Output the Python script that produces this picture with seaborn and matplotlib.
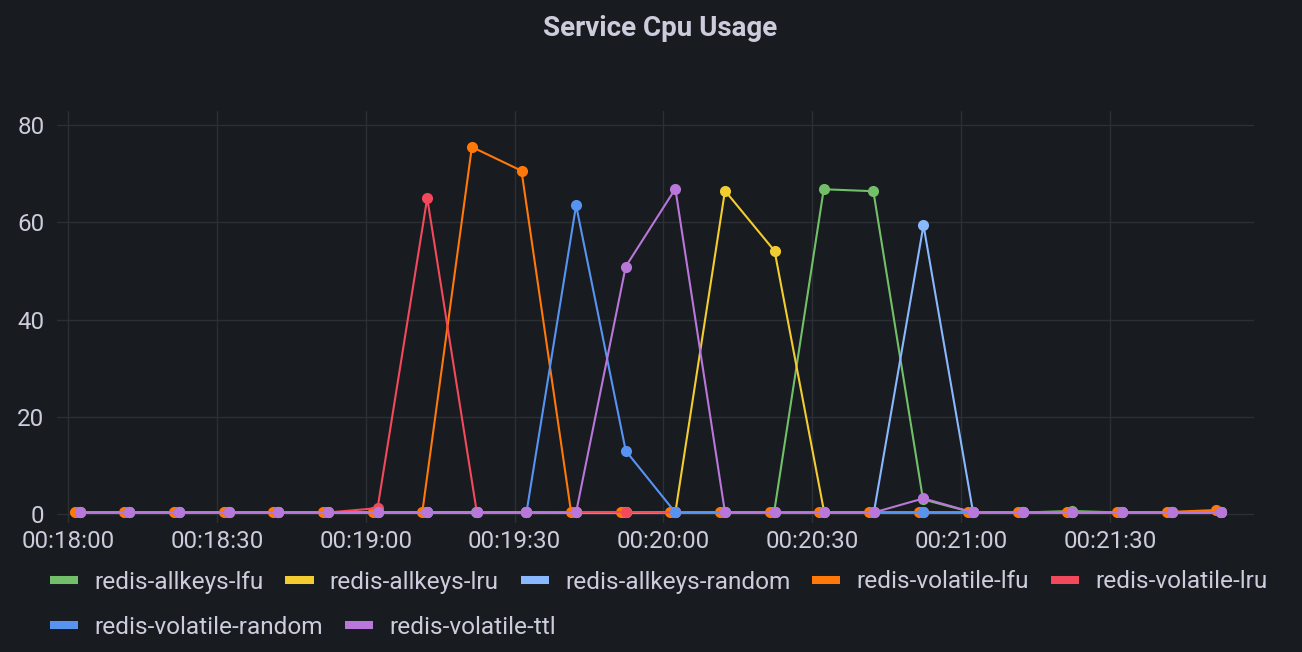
import numpy as np
import pandas as pd
import matplotlib
matplotlib.use("Agg")
import matplotlib.pyplot as plt
import matplotlib.dates as mdates
from matplotlib.lines import Line2D
import seaborn as sns

# ---------------- data ----------------
series_names = [
    "redis-allkeys-lfu", "redis-allkeys-lru", "redis-allkeys-random",
    "redis-volatile-lfu", "redis-volatile-lru", "redis-volatile-random",
    "redis-volatile-ttl",
]
series_colors = ["#73BF69", "#F2CC30", "#8AB8FF", "#FF780A", "#F2495C", "#5794F2", "#B877D9"]
# sample offsets (seconds after 00:18:00) of first point, 10 s step
first_offset = [2.3, 2.4, 2.4, 1.4, 2.4, 2.4, 2.4]
step_seconds = 10
allkeys_lfu = [0.3, 0.3, 0.3, 0.3, 0.3, 0.3, 0.3, 0.3, 0.3, 0.3, 0.3, 0.3,
               0.3, 0.3, 0.3, 66.8, 66.4, 3.0, 0.3, 0.3, 0.6, 0.3, 0.3, 0.3]
allkeys_lru = [0.3, 0.3, 0.3, 0.3, 0.3, 0.3, 0.3, 0.3, 0.3, 0.3, 0.3, 0.3,
               0.3, 66.5, 54.1, 0.3, 0.3, 0.3, 0.3, 0.3, 0.3, 0.3, 0.3, 0.3]
allkeys_random = [0.3, 0.3, 0.3, 0.3, 0.3, 0.3, 0.3, 0.3, 0.3, 0.3, 0.3, 0.3,
                  0.3, 0.3, 0.3, 0.3, 0.3, 59.4, 0.3, 0.3, 0.3, 0.3, 0.3, 0.3]
volatile_lfu = [0.3, 0.3, 0.3, 0.3, 0.3, 0.3, 0.3, 0.3, 75.5, 70.6, 0.3, 0.3,
                0.3, 0.3, 0.3, 0.3, 0.3, 0.3, 0.3, 0.3, 0.3, 0.3, 0.4, 0.8]
volatile_lru = [0.3, 0.3, 0.3, 0.3, 0.3, 0.3, 1.2, 65.0, 0.3, 0.3, 0.4, 0.4,
                0.3, 0.3, 0.3, 0.3, 0.3, 0.3, 0.3, 0.3, 0.3, 0.3, 0.3, 0.3]
volatile_random = [0.3, 0.3, 0.3, 0.3, 0.3, 0.3, 0.3, 0.3, 0.3, 0.3, 63.5, 13.0,
                   0.3, 0.3, 0.3, 0.3, 0.3, 0.3, 0.3, 0.3, 0.3, 0.3, 0.3, 0.3]
volatile_ttl = [0.3, 0.3, 0.3, 0.3, 0.3, 0.3, 0.3, 0.3, 0.3, 0.3, 0.3, 50.9,
                66.9, 0.3, 0.3, 0.3, 0.3, 3.2, 0.3, 0.3, 0.3, 0.3, 0.3, 0.3]
series_values = [allkeys_lfu, allkeys_lru, allkeys_random, volatile_lfu,
                 volatile_lru, volatile_random, volatile_ttl]
y_ticks = [0, 20, 40, 60, 80]
title = "Service Cpu Usage"

# ---------------- build long table ----------------
base = pd.Timestamp("2024-01-01 00:18:00")
rows = []
for name, off, vals in zip(series_names, first_offset, series_values):
    for k, v in enumerate(vals):
        rows.append({"time": base + pd.Timedelta(seconds=off + step_seconds * k),
                     "series": name, "value": v})
df = pd.DataFrame(rows)

# ---------------- style ----------------
BG = "#181b1f"
TXT = "#ccccdc"
GRID = "#2c2f34"
sns.set_style("dark", {"axes.facecolor": BG, "figure.facecolor": BG})
plt.rcParams["font.family"] = ["Roboto", "DejaVu Sans"]

fig = plt.figure(figsize=(13.02, 6.52), dpi=100)
ax = fig.add_axes([57 / 1302, 1 - 522.7 / 652, (1254 - 57) / 1302, (522.7 - 111) / 652])
ax.set_facecolor(BG)

palette = dict(zip(series_names, series_colors))
sns.lineplot(data=df, x="time", y="value", hue="series", hue_order=series_names,
             palette=palette, marker="o", markersize=8, markeredgewidth=0,
             linewidth=1.5, ax=ax, legend=False, sort=True, estimator=None)

ax.set_xlim(base - pd.Timedelta(seconds=2.2), base + pd.Timedelta(seconds=239))
ax.set_ylim(-1.8, 82.9)
ax.set_yticks(y_ticks)
ax.xaxis.set_major_locator(mdates.SecondLocator(bysecond=[0, 30]))
ax.xaxis.set_major_formatter(mdates.DateFormatter("%H:%M:%S"))
ax.grid(True, color=GRID, linewidth=1)
ax.set_axisbelow(True)
for s in ax.spines.values():
    s.set_visible(False)
ax.tick_params(axis="both", length=0, labelsize=17.4, colors=TXT)
ax.tick_params(axis="y", pad=9)
ax.tick_params(axis="x", pad=5)
ax.set_xlabel("")
ax.set_ylabel("")

fig.text(660 / 1302, 1 - 28 / 652, title, ha="center", va="center",
         fontsize=20, fontweight=600, color=TXT)

# legends (flow layout, two rows)
LEG_FS = 17.6
def make_legend(names, colors, y):
    handles = [Line2D([0], [0], color=c, linewidth=5.8, solid_capstyle="butt") for c in colors]
    leg = fig.legend(handles, names, loc="center left", bbox_to_anchor=(50 / 1302, 1 - y / 652),
                     ncol=len(names), frameon=False, fontsize=LEG_FS, handlelength=1.15,
                     handletextpad=0.66, columnspacing=0.9, borderpad=0, borderaxespad=0)
    for t in leg.get_texts():
        t.set_color(TXT)
    return leg

make_legend(series_names[:5], series_colors[:5], 582)
make_legend(series_names[5:], series_colors[5:], 627)

fig.savefig("out.png", dpi=100, facecolor=BG)
